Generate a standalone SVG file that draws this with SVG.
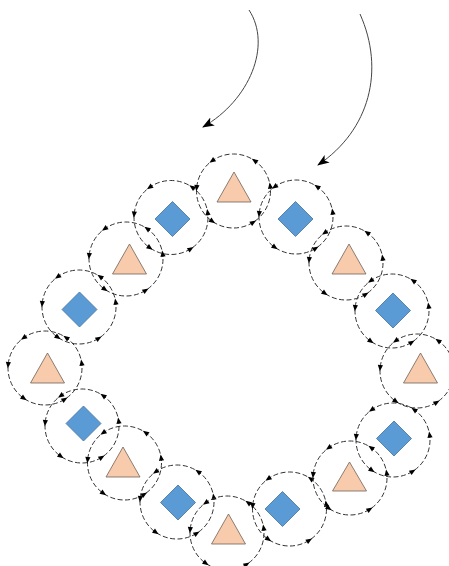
<svg xmlns="http://www.w3.org/2000/svg" width="449" height="566" viewBox="0 0 449 566">
<style>
.ring{fill:none;stroke:#333;stroke-width:1;stroke-dasharray:5 2.5}
.tri{fill:#F8CBAD;stroke:#6f6258;stroke-width:0.8}
.dia{fill:#5B9BD5;stroke:#41719C;stroke-width:0.8}
.ah{fill:#000}
.flow{fill:none;stroke:#444;stroke-width:1}
</style>
<defs>
<marker id="big" markerUnits="userSpaceOnUse" markerWidth="13" markerHeight="10" refX="11" refY="4.5" orient="auto">
<path d="M0,0 L12,4.5 L0,9 L3,4.5 Z" fill="#000"/>
</marker>
<path id="ah" class="ah" d="M3.5,0 L-2.8,-2.6 L-2.8,2.6 Z"/>
<g id="ring">
<circle r="37" class="ring"/>
<use href="#ah" transform="rotate(-125) translate(37 0) rotate(-90)"/>
<use href="#ah" transform="rotate(-55) translate(37 0) rotate(-90)"/>
<use href="#ah" transform="rotate(-8) translate(37 0) rotate(-90)"/>
<use href="#ah" transform="rotate(58) translate(37 0) rotate(-90)"/>
<use href="#ah" transform="rotate(125) translate(37 0) rotate(-90)"/>
<use href="#ah" transform="rotate(185) translate(37 0) rotate(-90)"/>
</g>
</defs>
<rect width="449" height="566" fill="#fff"/>
<g id="connectors">
<path class="flow" d="M249,10 C272,45 250,100 203,127" marker-end="url(#big)"/>
<path class="flow" d="M360,14 C385,70 370,130 318,165" marker-end="url(#big)"/>
</g>
<g id="n1"><use href="#ring" transform="translate(233.5 191)"/><polygon class="tri" points="234,172 251,202 217,202"/></g>
<g id="n2"><use href="#ring" transform="translate(171 217.5)"/><polygon class="dia" points="172.5,201.5 190,219 172.5,236.5 155,219"/></g>
<g id="n3"><use href="#ring" transform="translate(126 259)"/><polygon class="tri" points="129.5,244 146.5,274 112.5,274"/></g>
<g id="n4"><use href="#ring" transform="translate(79 307)"/><polygon class="dia" points="79.5,292 97,309.5 79.5,327 62,309.5"/></g>
<g id="n5"><use href="#ring" transform="translate(45 368)"/><polygon class="tri" points="47.5,353 64.5,383 30.5,383"/></g>
<g id="n6"><use href="#ring" transform="translate(82 426)"/><polygon class="dia" points="83.5,406 101,423.5 83.5,441 66,423.5"/></g>
<g id="n7"><use href="#ring" transform="translate(124.5 463)"/><polygon class="tri" points="123,447 140,477 106,477"/></g>
<g id="n8"><use href="#ring" transform="translate(177 502)"/><polygon class="dia" points="178,485 195.5,502.5 178,520 160.5,502.5"/></g>
<g id="n9"><use href="#ring" transform="translate(227 533)"/><polygon class="tri" points="228.5,514 245.5,544 211.5,544"/></g>
<g id="n10"><use href="#ring" transform="translate(289.5 509)"/><polygon class="dia" points="282.5,491.5 300,509 282.5,526.5 265,509"/></g>
<g id="n11"><use href="#ring" transform="translate(350 478)"/><polygon class="tri" points="349.5,462 366.5,491 332.5,491"/></g>
<g id="n12"><use href="#ring" transform="translate(393 440)"/><polygon class="dia" points="394,421 411.5,438.5 394,456 376.5,438.5"/></g>
<g id="n13"><use href="#ring" transform="translate(417 371)"/><polygon class="tri" points="420.5,353 437.5,383 403.5,383"/></g>
<g id="n14"><use href="#ring" transform="translate(392 311)"/><polygon class="dia" points="393,293 410.5,310.5 393,328 375.5,310.5"/></g>
<g id="n15"><use href="#ring" transform="translate(346 263)"/><polygon class="tri" points="349,244 366,274 332,274"/></g>
<g id="n16"><use href="#ring" transform="translate(296 217)"/><polygon class="dia" points="295.5,201.5 313,219 295.5,236.5 278,219"/></g>
</svg>
